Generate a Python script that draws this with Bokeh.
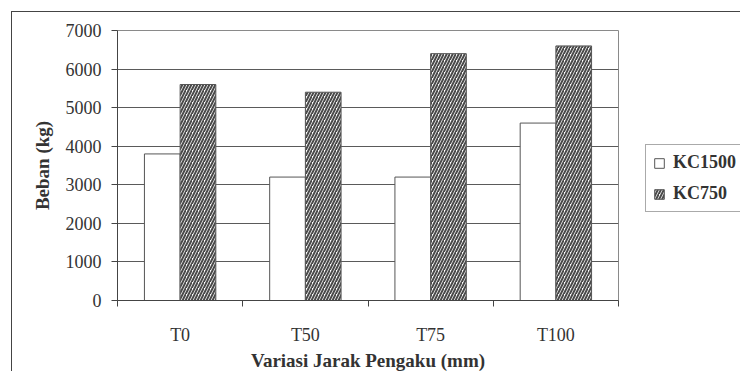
from bokeh.plotting import figure
from bokeh.models import (ColumnDataSource, FixedTicker, Legend, LegendItem,
                          Range1d, InlineStyleSheet)
from bokeh.transform import dodge
from bokeh.embed import file_html
from bokeh.resources import INLINE

categories = ["T0", "T50", "T75", "T100"]
kc1500 = [3800, 3200, 3200, 4600]
kc750 = [5600, 5400, 6400, 6600]
y_ticks = [0, 1000, 2000, 3000, 4000, 5000, 6000, 7000]

xpos = [i + 0.5 for i in range(len(categories))]
src = ColumnDataSource(data=dict(x=xpos, kc1500=kc1500, kc750=kc750, cat=categories))

border_css = InlineStyleSheet(css="""
:host::after {
  content: "";
  position: absolute;
  left: 11px; top: 11px; width: 800px; height: 500px;
  border-left: 1px solid #444;
  border-top: 1px solid #444;
  pointer-events: none;
  z-index: 50;
}
""")

p = figure(frame_width=501, frame_height=270,
           min_border_left=117, min_border_top=30, min_border_right=122,
           min_border_bottom=71, output_backend="svg", toolbar_location=None,
           x_range=Range1d(0, len(categories)), y_range=Range1d(0, 7000),
           stylesheets=[border_css])

p.background_fill_color = None
p.border_fill_color = "white"
p.outline_line_color = "#8a8a8a"
p.outline_line_width = 1

bw = 0.285
r1 = p.vbar(x=dodge("x", -bw / 2, range=p.x_range), top="kc1500", width=bw, source=src,
            fill_color="white", line_color="#555555", line_width=1)
r2 = p.vbar(x=dodge("x", bw / 2, range=p.x_range), top="kc750", width=bw, source=src,
            fill_color="white", line_color="#555555", line_width=1,
            hatch_pattern="/", hatch_color="#4a4a4a", hatch_scale=6, hatch_weight=2)

# grid
p.xgrid.grid_line_color = None
p.ygrid.grid_line_color = "#5a5a5a"
p.ygrid.grid_line_width = 1
p.ygrid.ticker = FixedTicker(ticks=y_ticks)

# x axis
xa = p.xaxis[0]
xa.ticker = FixedTicker(ticks=xpos, minor_ticks=list(range(len(categories) + 1)))
xa.major_label_overrides = {x: c for x, c in zip(xpos, categories)}
xa.major_tick_out = 0
xa.major_tick_in = 0
xa.minor_tick_out = 6
xa.minor_tick_in = 0
xa.minor_tick_line_color = "#444444"
xa.axis_line_color = "#444444"
xa.major_label_standoff = 18
xa.major_label_text_font = "Liberation Serif"
xa.major_label_text_font_size = "18px"
xa.major_label_text_color = "#333333"
xa.axis_label = "Variasi Jarak Pengaku (mm)"
xa.axis_label_text_font = "Liberation Serif"
xa.axis_label_text_font_style = "bold"
xa.axis_label_text_font_size = "19px"
xa.axis_label_text_color = "#333333"
xa.axis_label_standoff = 2

# y axis
ya = p.yaxis[0]
ya.ticker = FixedTicker(ticks=y_ticks)
ya.major_tick_out = 6
ya.major_tick_in = 0
ya.minor_tick_out = 0
ya.minor_tick_in = 0
ya.major_tick_line_color = "#444444"
ya.axis_line_color = "#444444"
ya.major_label_standoff = 10
ya.major_label_text_font = "Liberation Serif"
ya.major_label_text_font_size = "18px"
ya.major_label_text_color = "#333333"
ya.axis_label = "Beban (kg)"
ya.axis_label_text_font = "Liberation Serif"
ya.axis_label_text_font_style = "bold"
ya.axis_label_text_font_size = "19px"
ya.axis_label_text_color = "#333333"
ya.axis_label_standoff = 10

# legend
legend = Legend(items=[LegendItem(label="KC1500", renderers=[r1]),
                       LegendItem(label="KC750", renderers=[r2])],
                location=(27, 88), orientation="vertical",
                glyph_width=12, glyph_height=12, label_height=20,
                label_standoff=8, spacing=10, padding=7, margin=0,
                border_line_color="#555555", border_line_width=1,
                background_fill_color="white", background_fill_alpha=1,
                label_text_font="Liberation Serif", label_text_font_style="bold",
                label_text_font_size="18px", label_text_color="#333333")
p.add_layout(legend, "right")

open("out.html", "w").write(file_html(p, INLINE))
